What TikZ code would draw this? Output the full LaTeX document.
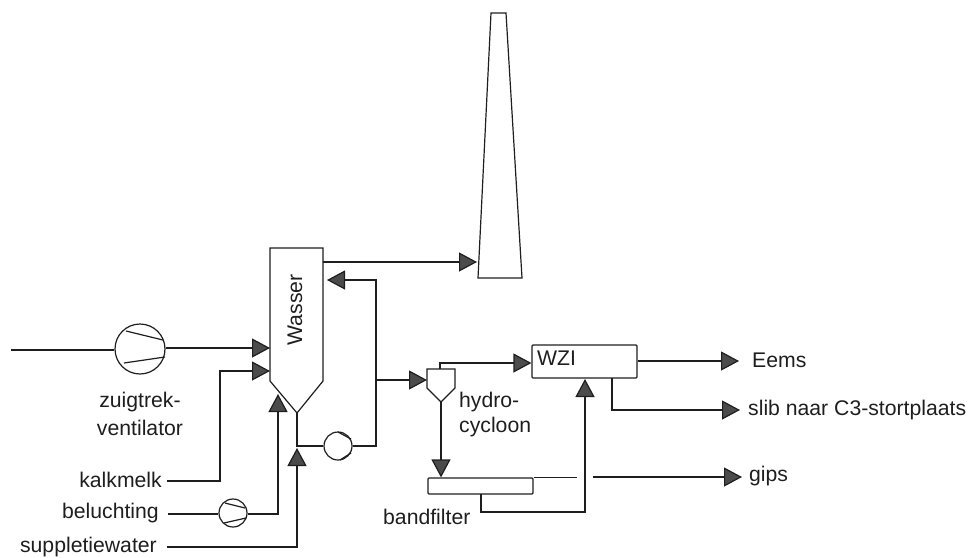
\documentclass[tikz,border=0pt]{standalone}
\usepackage{fontspec}
\setmainfont{Liberation Sans}
\usetikzlibrary{arrows.meta}
\definecolor{ink}{HTML}{1E1E1E}
\tikzset{
  line/.style={draw=ink,line width=1.2pt},
  flow/.style={line,-{Triangle[length=18pt,width=19pt,fill=ink!80!white]}},
  rotor/.style={circle,draw=ink,line width=1.2pt,inner sep=0pt,fill=white},
  unitbox/.style={rectangle,draw=ink,line width=1.2pt,inner sep=0pt,rounded corners=1pt},
  label/.style={font=\fontsize{21.2pt}{24pt}\selectfont,text=ink,inner sep=0pt}
}
\begin{document}
\begin{tikzpicture}[x=1pt,y=-1pt]
\useasboundingbox (0,0) rectangle (971,557);
% chimney
\coordinate (chA) at (491,13);
\coordinate (chB) at (506,13);
\coordinate (chC) at (522,278);
\coordinate (chD) at (478,278);
\draw[line] (chA) -- (chB) -- (chC) -- (chD) -- cycle;
\coordinate (chIn) at (477,262);
% scrubber
\coordinate (scTL) at (270,248);
\coordinate (scTR) at (323,248);
\coordinate (scSR) at (323,381);
\coordinate (apex) at (297,413);
\coordinate (scSL) at (270,381);
\draw[line] (scTL) -- (scTR) -- (scSR) -- (apex) -- (scSL) -- cycle;
\node[label,rotate=90] (wasser) at (295,310) {Wasser};
\coordinate (scOut) at (323,262);
\coordinate (scRet) at (327,280);
\coordinate (scFan) at (270,348);
\coordinate (scKalk) at (270,371);
\coordinate (scAir) at (278,394);
\coordinate (scSup) at (297,448);
% fans and pump
\node[rotor,minimum size=50pt] (fan) at (140,349) {};
\draw[line] (126,331) -- (163,340) (124,363) -- (165,357);
\node[rotor,minimum size=28pt] (air) at (233,513) {};
\draw[line] (225,503) -- (245,508) (224,523) -- (246,518);
\node[rotor,minimum size=28pt] (pump) at (338,446) {};
\draw[line] (338,432) -- (351,439) (351,453) -- (340,460);
% inlet
\coordinate (gasIn) at (11,350);
\draw[line] (gasIn) -- (fan.west |- gasIn);
\draw[flow] (fan.east |- scFan) -- (scFan);
\draw[flow] (scOut) -- (chIn);
% feed labels
\node[label,anchor=east] (kalk) at (162,480) {kalkmelk};
\node[label,anchor=east] (bel) at (159,513) {beluchting};
\node[label,anchor=east] (sup) at (157,547) {suppletiewater};
\coordinate (kalkS) at (167,481);
\coordinate (belS) at (168,514);
\coordinate (supS) at (167,547);
\draw[flow] (kalkS) -- (220,481) -- (220,371) -- (scKalk);
\draw[line] (belS) -- (air.west |- belS);
\draw[flow] (air.east |- belS) -- (278,514) -- (scAir);
\draw[flow] (supS) -- (297,547) -- (scSup);
% recirculation
\coordinate (tee) at (297,446);
\draw[line] (apex) -- (tee) -- (pump.west);
\coordinate (riser) at (376,380);
\draw[flow] (pump.east) -- (376,446) -- (376,280) -- (scRet);
% hydrocyclone
\coordinate (hcTL) at (427,369);
\coordinate (hcTR) at (455,369);
\coordinate (hcSR) at (455,388);
\coordinate (hcA) at (441,402);
\coordinate (hcSL) at (427,388);
\draw[line] (hcTL) -- (hcTR) -- (hcSR) -- (hcA) -- (hcSL) -- cycle;
\draw[flow] (riser) -- (hcTL |- riser);
\node[label,anchor=west] (hydro) at (459,402) {hydro-};
\node[label,anchor=west] (cyc) at (459,427) {cycloon};
% WZI
\node[unitbox,minimum width=105pt,minimum height=33pt] (wzi) at (584.5,361.5) {};
\node[label,anchor=west] (wzit) at (537,358) {WZI};
\coordinate (hcTop) at (440,369);
\draw[flow] (hcTop) -- (440,363) -- (wzi.west |- 0,363);
% bandfilter
\node[unitbox,minimum width=105pt,minimum height=16pt] (bf) at (480.5,486) {};
\node[label,anchor=west] (bft) at (383,517) {bandfilter};
\draw[flow] (hcA) -- (hcA |- bf.north);
\coordinate (bfEnd) at (577,478);
\coordinate (gipsS) at (593,477);
\draw[line] (bf.north east) -- (bf.north east -| bfEnd);
\coordinate (gipsT) at (742,477);
\draw[flow] (gipsS) -- (gipsT);
\node[label,anchor=west] (gips) at (749,476) {gips};
\draw[flow] (481,494) -- (481,512) -- (585,512) -- (585,379);
% outlets
\coordinate (eemsT) at (739,361);
\coordinate (slibT) at (740,410);
\draw[flow] (wzi.east |- eemsT) -- (eemsT);
\draw[flow] (612,378) -- (612,410) -- (slibT);
\node[label,anchor=west] (eems) at (752,360) {Eems};
\node[label,anchor=west] (slib) at (748,410) {slib naar C3-stortplaats};
% fan label
\node[label] (z1) at (140,402) {zuigtrek-};
\node[label] (z2) at (140,428) {ventilator};
\end{tikzpicture}
\end{document}
